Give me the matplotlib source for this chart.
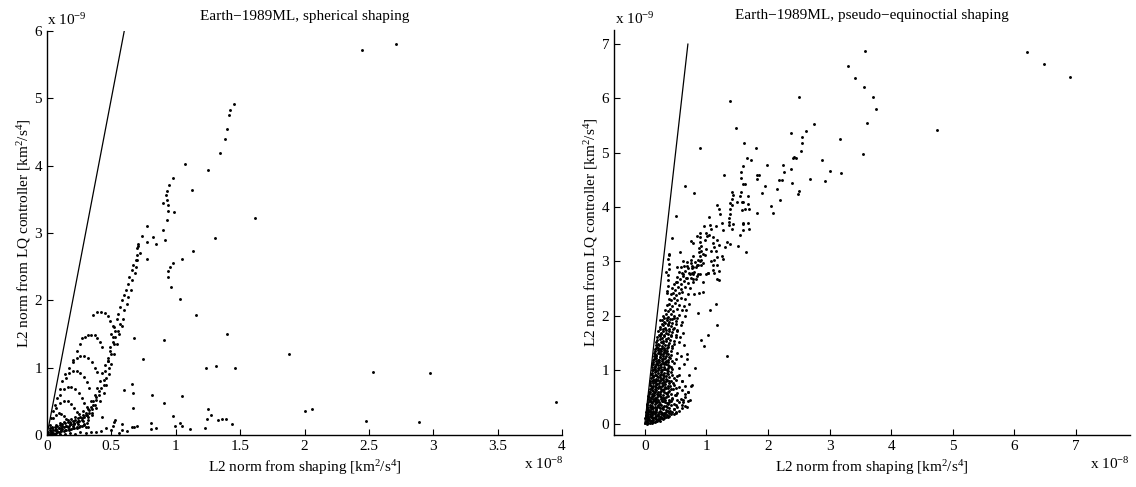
import numpy as np
import matplotlib.pyplot as plt

plt.rcParams['font.family'] = ['Liberation Serif', 'DejaVu Serif']
plt.rcParams['mathtext.default'] = 'regular'
plt.rcParams['font.size'] = 11

# units: x in 1e-8, y in 1e-9 (km^2/s^4)

# ---- spherical shaping ----
sph_out_x = [2.445,2.71,1.455,1.42,1.41,1.40,1.385,1.34,1.25,1.07,
             1.13,0.98,0.948,0.93,0.927,0.932,0.904,0.937,0.94,0.987,
             0.93,1.614,1.305,0.90,0.915,0.78,0.82,0.74,0.78,0.85,
             0.71,0.70,1.137,0.777,1.047,0.98,0.956,0.943,0.943,0.966,
             1.033,1.158,1.40,0.907,1.88,1.235,1.31,1.46,2.53,1.05,
             0.91,2.0,2.06,2.48,1.25,1.27,1.24,1.33,1.36,1.39,
             1.44,1.23,0.98,0.995,1.03,1.05,1.11,0.81,0.81,0.85,
             0.67,0.658,0.666,0.816,0.60,0.746,0.676,0.674,0.70,0.58,
             0.58,0.53,0.52,0.51,0.425,0.32,0.30,2.976,2.89,3.95]
sph_out_y = [5.72,5.81,4.91,4.83,4.75,4.55,4.39,4.19,3.94,4.02,
             3.64,3.82,3.71,3.63,3.56,3.49,3.44,3.42,3.33,3.31,
             3.20,3.22,2.93,3.05,2.89,3.10,2.94,2.96,2.87,2.84,
             2.84,2.78,2.73,2.61,2.62,2.55,2.49,2.43,2.34,2.20,
             2.02,1.78,1.50,1.41,1.20,0.99,1.02,0.995,0.94,0.58,
             0.47,0.36,0.38,0.21,0.39,0.29,0.24,0.22,0.235,0.24,
             0.17,0.10,0.28,0.14,0.18,0.14,0.085,0.18,0.09,0.10,
             0.40,0.76,0.63,0.60,0.67,1.13,1.44,0.12,0.13,0.17,
             0.08,0.23,0.20,0.13,0.26,0.12,0.12,0.917,0.20,0.486]

sph_band_x = [0.02,0.05,0.08,0.11,0.14,0.17,0.2,0.23,0.26,0.29,0.32,0.35,
              0.03,0.06,0.09,0.12,0.15,0.18,0.21,0.24,0.27,0.3,0.33,0.36,0.38,0.40,0.42,0.44,
              0.02,0.04,0.07,0.10,0.13,0.16,0.19,0.22,0.25,0.28,0.31,0.34,0.37,0.39,0.41,0.43,0.45,0.47,
              0.04,0.08,0.12,0.16,0.2,0.24,0.28,0.32,0.35,0.38,0.41,0.44,0.46,0.48,0.5,0.52,0.54,0.56,0.58,
              0.47,0.49,0.51,0.53,0.55,0.57,0.59,0.6,0.62,0.63,0.65,0.66,0.68,0.69,0.7,0.72,
              0.5,0.52,0.54,0.55,0.57,0.58,0.6,0.61,0.63,0.64,0.66,0.67,0.69,0.7,0.71]
sph_band_y = [0.01,0.03,0.05,0.07,0.08,0.09,0.10,0.12,0.14,0.17,0.22,0.30,
              0.05,0.08,0.11,0.13,0.14,0.16,0.18,0.21,0.25,0.30,0.37,0.45,0.52,0.60,0.70,0.82,
              0.08,0.12,0.15,0.18,0.2,0.22,0.24,0.27,0.31,0.36,0.42,0.5,0.6,0.7,0.8,0.92,1.04,1.15,
              0.03,0.06,0.09,0.12,0.14,0.17,0.21,0.27,0.33,0.4,0.5,0.62,0.75,0.9,1.05,1.2,1.35,1.5,1.62,
              1.1,1.25,1.38,1.45,1.55,1.65,1.72,1.85,1.95,2.05,2.15,2.3,2.4,2.5,2.6,2.7,
              1.5,1.6,1.72,1.8,1.9,2.0,2.08,2.15,2.25,2.35,2.45,2.52,2.6,2.68,2.8]

# extra points in the thick band near the origin
sph_dense_x = [0.01,0.03,0.05,0.07,0.09,0.11,0.13,0.15,0.17,0.19,0.21,0.23,0.25,0.27,0.29,0.31,0.33,0.35,0.37,
               0.01,0.02,0.04,0.06,0.08,0.1,0.12,0.14,0.16,0.18,0.2,0.22,0.24,0.26,0.28,0.3,0.32,0.34,0.36,0.38,0.4,
               0.03,0.05,0.07,0.09,0.11,0.13,0.15,0.17,0.19,0.21,0.23,0.25,0.27,0.29,0.31,
               0.44,0.46,0.45,0.48,0.47,0.5,0.49,0.52,0.51,0.53]
sph_dense_y = [0.04,0.06,0.07,0.09,0.1,0.11,0.12,0.13,0.14,0.16,0.17,0.19,0.21,0.23,0.26,0.29,0.33,0.38,0.44,
               0.02,0.1,0.1,0.12,0.14,0.15,0.16,0.18,0.19,0.2,0.21,0.23,0.25,0.27,0.3,0.33,0.38,0.42,0.5,0.56,0.65,
               0.01,0.02,0.03,0.05,0.06,0.06,0.07,0.08,0.09,0.1,0.11,0.12,0.13,0.15,0.18,
               0.75,0.85,0.95,1.0,1.1,1.2,1.3,1.35,1.45,1.55]

sph_arc_x = [0.36,0.39,0.42,0.45,0.476,0.49,0.51,
             0.27,0.295,0.32,0.34,0.373,0.39,0.41,0.43,
             0.2,0.23,0.26,0.29,0.32,0.35,0.37,0.39,
             0.15,0.17,0.2,0.23,0.26,0.29,0.31,0.33,
             0.1,0.13,0.16,0.19,0.22,0.25,0.27,0.29,
             0.07,0.1,0.13,0.16,0.19,0.21,0.23,
             0.05,0.07,0.09,0.11,0.13,0.15,
             0.02,0.03,0.05,0.06,0.08,0.1,0.12,0.14,0.17,0.2,0.23,0.26,
             0.06,0.1,0.14,0.18,0.22,0.26,0.3,
             0.34,0.38,0.42,0.46,0.5,0.56,0.62,0.66]
sph_arc_y = [1.78,1.82,1.82,1.81,1.76,1.7,1.62,
             1.44,1.46,1.48,1.49,1.48,1.44,1.38,1.3,
             1.12,1.15,1.17,1.17,1.14,1.08,1.0,0.93,
             0.85,0.92,0.95,0.95,0.92,0.86,0.78,0.7,
             0.6,0.68,0.72,0.72,0.68,0.62,0.55,0.47,
             0.4,0.47,0.5,0.5,0.46,0.4,0.34,
             0.25,0.3,0.32,0.31,0.28,0.24,
             0.15,0.25,0.35,0.45,0.55,0.68,0.8,0.9,1.0,1.08,1.25,1.35,
             0.01,0.02,0.02,0.03,0.02,0.04,0.03,
             0.05,0.04,0.06,0.1,0.08,0.03,0.06,0.12]

sph_line_x = [0, 0.6]
sph_line_y = [0, 6]

# ---- pseudo-equinoctial shaping ----
peq_out_x = [3.57,3.30,3.41,3.56,3.71,3.76,3.61,3.55,4.75,6.20,
             6.48,6.91,3.17,3.19,2.50,1.38,1.48,2.75,2.62,2.38,
             2.56,2.55,2.54,1.61,0.89,1.81,1.66,1.73,2.43,2.46,
             2.40,2.88,1.59,1.98,2.24,2.37,1.57,1.83,1.85,2.26,
             3.01,1.57,1.83,2.18,2.23,2.69,2.93,1.63,1.59,2.39,
             1.95,2.15,1.56,1.91,2.50,2.49,1.67,2.20,1.59,1.67,
             2.05,1.62,1.70,1.58,1.83,2.09,1.60,1.67,1.70,0.65,
             0.80,0.51,0.45,1.29]
peq_out_y = [6.88,6.59,6.38,6.21,6.02,5.80,5.55,4.98,5.41,6.85,
             6.63,6.39,5.26,4.63,6.02,5.95,5.46,5.53,5.40,5.36,
             5.29,5.17,5.03,5.18,5.09,5.08,4.90,4.87,4.92,4.90,
             4.91,4.86,4.76,4.77,4.78,4.70,4.64,4.59,4.58,4.65,
             4.66,4.54,4.52,4.49,4.49,4.52,4.48,4.43,4.42,4.44,
             4.38,4.34,4.27,4.25,4.30,4.24,4.20,4.13,4.09,4.06,
             4.01,3.97,3.97,3.95,3.89,3.88,3.70,3.70,3.59,4.38,
             4.25,3.83,3.43,4.58]

peq_mid_x = [1.42,1.43,1.55,1.41,1.39,1.41,1.38,1.49,1.58,1.17,
             1.20,1.22,1.38,1.37,1.37,1.26,1.36,1.43,1.42,1.60,
             1.60,1.27,1.54,1.06,1.15,1.07,0.96,1.04,0.90,1.00,
             1.01,1.04,0.84,0.89,0.75,0.78,0.89,0.92,0.97,1.11,
             1.18,1.20,1.10,1.12,1.34,1.38,1.31,1.51,0.88,0.92,
             0.99,1.07,0.88,0.95,1.16,1.26,1.18,1.65,0.78,0.89,
             0.97,0.87,0.90,0.95,0.68,0.75,0.76,0.79,0.83,0.86,
             0.91,1.07,1.12,1.11,1.17,1.27,0.62,0.73,0.76,0.79,
             0.86,0.90,0.99,1.02,1.12,0.79,0.83,1.18,0.67]
peq_mid_y = [4.27,4.22,4.20,4.14,4.08,4.03,3.97,4.09,4.09,4.03,
             3.97,3.87,3.87,3.80,3.73,3.71,3.66,3.68,3.59,3.69,
             3.57,3.57,3.48,3.66,3.65,3.60,3.65,3.81,3.52,3.52,
             3.46,3.48,3.46,3.44,3.38,3.33,3.35,3.28,3.39,3.45,
             3.39,3.30,3.33,3.27,3.36,3.32,3.27,3.28,3.25,3.19,
             3.22,3.19,3.17,3.14,3.19,3.09,3.08,3.17,3.09,3.09,
             3.11,3.03,3.01,2.96,2.91,2.96,2.88,2.90,2.89,2.93,
             2.93,3.00,3.02,2.93,2.93,3.05,2.76,2.76,2.78,2.76,
             2.76,2.76,2.76,2.78,2.78,2.68,2.67,2.68,2.70]

peq_edge_x = [1.16,1.06,1.02,1.17,0.92,0.96,1.33,0.81,0.75,1.20,
              1.21,1.02,0.95,0.88,0.67,0.52,0.50,0.36,0.35,0.40,
              0.24,0.57,0.73,0.76,0.68,0.51,0.30,0.68,0.62,0.87,
              0.95,1.11,
              0.55,0.6,0.63,0.58,0.66,0.7,0.62,0.72,0.57,0.64,0.69,0.6]
peq_edge_y = [2.22,2.10,1.64,1.82,1.55,1.44,1.25,1.03,0.71,2.82,
              2.66,2.79,2.62,2.41,2.11,2.89,2.62,2.41,2.80,3.14,
              1.92,3.17,0.44,0.72,0.32,0.20,0.10,1.30,1.67,2.04,
              2.44,2.84,
              0.9,0.8,1.1,1.25,0.55,0.6,0.45,0.9,1.6,1.45,1.2,0.35]

peq_core_x = [0.01,0.04,0.08,0.12,0.16,0.2,0.25,
              0.02,0.05,0.09,0.13,0.18,0.23,0.28,0.34,0.4,
              0.01,0.03,0.06,0.1,0.14,0.19,0.24,0.3,0.36,0.42,0.48,
              0.02,0.05,0.08,0.12,0.16,0.21,0.26,0.32,0.38,0.44,0.5,0.55,
              0.03,0.06,0.1,0.14,0.18,0.23,0.28,0.34,0.4,0.47,0.53,0.6,0.66,
              0.04,0.08,0.12,0.16,0.2,0.25,0.3,0.36,0.42,0.48,0.55,0.62,0.7,
              0.06,0.1,0.14,0.18,0.22,0.27,0.32,0.38,0.44,0.5,0.58,0.66,
              0.07,0.11,0.15,0.19,0.24,0.29,0.34,0.4,0.46,0.53,0.6,0.7,
              0.08,0.12,0.16,0.2,0.25,0.3,0.35,0.41,0.48,0.56,0.65,
              0.09,0.13,0.17,0.21,0.26,0.31,0.36,0.42,0.5,0.6,
              0.1,0.14,0.18,0.22,0.27,0.32,0.37,0.44,0.52,
              0.11,0.15,0.19,0.23,0.28,0.33,0.38,0.45,0.55,
              0.12,0.16,0.2,0.24,0.29,0.34,0.4,0.47,
              0.13,0.17,0.21,0.25,0.3,0.35,0.41,0.5,
              0.15,0.19,0.23,0.27,0.32,0.37,0.43,0.52,
              0.16,0.2,0.24,0.28,0.33,0.38,0.45,
              0.18,0.22,0.26,0.3,0.35,0.4,0.47,0.56,
              0.2,0.24,0.28,0.32,0.37,0.42,0.5,
              0.22,0.26,0.3,0.34,0.39,0.45,0.53,
              0.25,0.29,0.33,0.37,0.42,0.48,0.58,
              0.28,0.32,0.36,0.4,0.45,0.51,0.6,
              0.3,0.34,0.38,0.43,0.48,0.55,0.65,
              0.33,0.37,0.41,0.46,0.52,0.6,
              0.36,0.4,0.44,0.49,0.55,0.63,0.72,
              0.39,0.43,0.47,0.52,0.58,0.66,
              0.42,0.46,0.5,0.55,0.61,0.7,0.8,
              0.45,0.49,0.54,0.59,0.65,0.74,
              0.48,0.53,0.58,0.63,0.7,0.78,
              0.52,0.57,0.62,0.68,0.75,0.84,
              0.55,0.6,0.66,0.72,0.8,
              0.58,0.64,0.7,0.77,0.85,
              0.62,0.68,0.75,0.82,0.92]
peq_core_y = [0.02,0.01,0.03,0.02,0.04,0.05,0.06,
              0.06,0.08,0.05,0.07,0.09,0.1,0.12,0.13,0.15,
              0.12,0.15,0.11,0.14,0.12,0.15,0.13,0.16,0.17,0.18,0.19,
              0.22,0.19,0.24,0.2,0.23,0.19,0.22,0.21,0.24,0.23,0.22,0.24,
              0.31,0.28,0.33,0.3,0.27,0.32,0.29,0.33,0.3,0.28,0.31,0.3,0.33,
              0.38,0.42,0.39,0.43,0.4,0.37,0.42,0.39,0.43,0.38,0.41,0.4,0.42,
              0.52,0.48,0.51,0.47,0.53,0.5,0.48,0.52,0.49,0.53,0.47,0.5,
              0.6,0.63,0.58,0.62,0.59,0.63,0.57,0.61,0.64,0.58,0.62,0.6,
              0.72,0.68,0.71,0.74,0.69,0.72,0.67,0.71,0.73,0.68,0.7,
              0.79,0.82,0.78,0.81,0.83,0.78,0.82,0.79,0.81,0.8,
              0.92,0.88,0.91,0.87,0.92,0.89,0.93,0.9,0.88,
              0.99,1.02,0.98,1.03,0.99,1.02,0.97,1.01,1.03,
              1.11,1.08,1.12,1.09,1.13,1.1,1.08,1.12,
              1.19,1.22,1.18,1.23,1.2,1.17,1.22,1.2,
              1.31,1.28,1.32,1.29,1.33,1.3,1.27,1.31,
              1.39,1.42,1.38,1.41,1.37,1.42,1.4,
              1.51,1.48,1.52,1.49,1.53,1.5,1.47,1.51,
              1.6,1.63,1.58,1.62,1.59,1.63,1.6,
              1.72,1.68,1.71,1.67,1.72,1.69,1.71,
              1.79,1.82,1.78,1.83,1.8,1.77,1.82,
              1.91,1.88,1.92,1.89,1.93,1.9,1.88,
              1.99,2.02,1.98,2.03,1.99,2.01,2.0,
              2.11,2.08,2.12,2.09,2.13,2.1,
              2.19,2.22,2.18,2.23,2.2,2.17,2.21,
              2.31,2.28,2.32,2.29,2.33,2.3,
              2.39,2.42,2.38,2.41,2.43,2.39,2.4,
              2.51,2.48,2.52,2.49,2.53,2.5,
              2.59,2.62,2.58,2.63,2.6,2.61,
              2.71,2.68,2.72,2.69,2.7,2.72,
              2.81,2.78,2.82,2.79,2.8,
              2.9,2.92,2.88,2.91,2.93,
              3.01,2.98,3.02,2.99,3.03]

peq_fill_x = [0.03,0.07,0.11,0.16,0.21,0.26,0.31,0.37,
              0.02,0.04,0.08,0.12,0.17,0.22,0.27,0.33,0.39,
              0.03,0.07,0.1,0.14,0.19,0.24,0.29,0.35,0.41,0.47,
              0.04,0.08,0.12,0.16,0.21,0.26,0.31,0.37,0.43,0.5,
              0.05,0.09,0.13,0.17,0.22,0.27,0.33,0.39,0.45,0.52,
              0.07,0.11,0.15,0.2,0.25,0.3,0.36,0.42,0.49,
              0.08,0.12,0.16,0.21,0.26,0.31,0.37,0.43,0.5,
              0.09,0.13,0.18,0.23,0.28,0.33,0.39,0.46,
              0.1,0.14,0.19,0.24,0.29,0.34,0.4,0.47,
              0.11,0.16,0.21,0.26,0.31,0.36,0.42,
              0.12,0.17,0.22,0.27,0.32,0.37,0.43,
              0.14,0.18,0.23,0.28,0.33,0.38,0.44,
              0.15,0.19,0.24,0.29,0.34,0.4,
              0.16,0.21,0.26,0.31,0.36,0.42,
              0.18,0.23,0.28,0.33,0.38,0.44,
              0.2,0.25,0.3,0.35,0.41,0.48,
              0.23,0.27,0.32,0.37,0.43,0.5,
              0.25,0.3,0.35,0.4,0.46,0.53,
              0.28,0.33,0.38,0.44,0.5,
              0.31,0.36,0.41,0.47,0.53]
peq_fill_y = [0.09,0.1,0.08,0.11,0.09,0.12,0.11,0.14,
              0.17,0.16,0.18,0.16,0.18,0.17,0.19,0.18,0.2,
              0.26,0.25,0.27,0.24,0.26,0.25,0.27,0.26,0.25,0.27,
              0.35,0.36,0.34,0.37,0.35,0.36,0.34,0.37,0.35,0.36,
              0.46,0.44,0.46,0.45,0.44,0.46,0.45,0.44,0.46,0.45,
              0.55,0.56,0.54,0.56,0.55,0.54,0.56,0.55,0.54,
              0.65,0.66,0.64,0.66,0.65,0.64,0.66,0.65,0.66,
              0.75,0.76,0.74,0.76,0.75,0.74,0.76,0.75,
              0.85,0.86,0.84,0.86,0.85,0.84,0.86,0.85,
              0.95,0.96,0.94,0.96,0.95,0.94,0.96,
              1.05,1.06,1.04,1.06,1.05,1.04,1.06,
              1.15,1.16,1.14,1.16,1.15,1.14,1.16,
              1.25,1.26,1.24,1.26,1.25,1.24,
              1.35,1.36,1.34,1.36,1.35,1.34,
              1.45,1.46,1.44,1.46,1.45,1.44,
              1.55,1.56,1.54,1.56,1.55,1.54,
              1.65,1.66,1.64,1.66,1.65,1.64,
              1.75,1.76,1.74,1.76,1.75,1.74,
              1.85,1.86,1.84,1.86,1.85,
              1.95,1.96,1.94,1.96,1.95]

# third layer for the black part of the wedge, plus the column near the line
peq_dense_x = [0.03,0.06,0.1,0.14,0.19,0.23,
               0.02,0.05,0.08,0.12,0.16,0.21,0.26,0.32,
               0.03,0.06,0.1,0.14,0.18,0.23,0.28,0.34,
               0.04,0.08,0.12,0.16,0.2,0.25,0.3,0.36,
               0.05,0.1,0.14,0.18,0.23,0.28,0.33,0.39,
               0.07,0.12,0.16,0.2,0.25,0.3,0.35,
               0.08,0.13,0.17,0.22,0.27,0.32,0.37,
               0.1,0.14,0.18,0.23,0.28,0.33,0.38,
               0.11,0.15,0.19,0.24,0.29,0.34,0.39,
               0.12,0.16,0.2,0.25,0.3,0.35,
               0.13,0.17,0.21,0.26,0.31,0.36,
               0.14,0.18,0.22,0.27,0.32,0.37,
               0.15,0.19,0.23,0.28,0.33,0.38,
               0.17,0.21,0.25,0.3,0.35,
               0.18,0.22,0.26,0.31,0.36,
               0.36,0.37,0.38,0.38,0.39,0.4,0.37,0.4]
peq_dense_y = [0.04,0.03,0.05,0.04,0.06,0.07,
               0.14,0.13,0.15,0.14,0.13,0.15,0.14,0.15,
               0.21,0.23,0.22,0.21,0.23,0.22,0.21,0.23,
               0.32,0.31,0.3,0.32,0.31,0.3,0.32,0.31,
               0.41,0.4,0.42,0.41,0.4,0.42,0.41,0.4,
               0.5,0.51,0.49,0.5,0.51,0.49,0.5,
               0.6,0.61,0.59,0.6,0.61,0.59,0.6,
               0.7,0.71,0.69,0.7,0.71,0.69,0.7,
               0.8,0.81,0.79,0.8,0.81,0.79,0.8,
               0.9,0.91,0.89,0.9,0.91,0.89,
               1.0,1.01,0.99,1.0,1.01,0.99,
               1.1,1.11,1.09,1.1,1.11,1.09,
               1.2,1.21,1.19,1.2,1.21,1.19,
               1.3,1.31,1.29,1.3,1.31,
               1.4,1.41,1.39,1.4,1.41,
               2.45,2.55,2.65,2.75,2.85,2.95,3.05,3.12]

peq_line_x = [0, 0.7]
peq_line_y = [0, 7]

W, H = 1136, 487
fig = plt.figure(figsize=(W/100, H/100), dpi=100)
ax1 = fig.add_axes([47/W, 52/H, 515/W, 404/H])
ax2 = fig.add_axes([614/W, 52/H, 516/W, 405/H])

dot = dict(linestyle='none', marker='o', markersize=2.1, markeredgewidth=0, color='k')

for gx, gy in [(sph_out_x, sph_out_y), (sph_band_x, sph_band_y), (sph_dense_x, sph_dense_y),
               (sph_arc_x, sph_arc_y)]:
    ax1.plot(gx, gy, **dot)
ax1.plot(sph_line_x, sph_line_y, 'k-', lw=0.9)

for gx, gy in [(peq_out_x, peq_out_y), (peq_mid_x, peq_mid_y), (peq_edge_x, peq_edge_y),
               (peq_core_x, peq_core_y), (peq_fill_x, peq_fill_y), (peq_dense_x, peq_dense_y)]:
    ax2.plot(gx, gy, **dot)
ax2.plot(peq_line_x, peq_line_y, 'k-', lw=0.9)

ax1.set_xlim(0, 4)
ax1.set_ylim(0, 6)
ax1.set_xticks(np.arange(0, 4.01, 0.5))
ax1.set_xticklabels(['0', '0.5', '1', '1.5', '2', '2.5', '3', '3.5', '4'])
ax1.set_yticks(range(0, 7))

ax2.set_xlim(-0.5, 7.88)
ax2.set_ylim(-0.2, 7.26)
ax2.set_xticks(range(0, 8))
ax2.set_yticks(range(0, 8))

for ax in [ax1, ax2]:
    ax.spines['top'].set_visible(False)
    ax.spines['right'].set_visible(False)
    ax.spines['left'].set_linewidth(1.0)
    ax.spines['bottom'].set_linewidth(1.0)
    ax.tick_params(direction='in', length=4, width=0.8, labelsize=11)
    ax.set_xlabel('L2 norm from shaping [km$^2$/s$^4$]', fontsize=11)
    ax.set_ylabel('L2 norm from LQ controller [km$^2$/s$^4$]', fontsize=11, labelpad=1)

ax1.set_title('Earth\u22121989ML, spherical shaping', fontsize=11, pad=8)
ax2.set_title('Earth\u22121989ML, pseudo\u2212equinoctial shaping', fontsize=11, pad=8)

# MATLAB style exponent labels
fig.text(47/W, 1 - 20/H, 'x 10$^{\u22129}$', fontsize=11, va='center', ha='left')
fig.text(615/W, 1 - 19/H, 'x 10$^{\u22129}$', fontsize=11, va='center', ha='left')
fig.text(524/W, 1 - 464/H, 'x 10$^{\u22128}$', fontsize=11, va='center', ha='left')
fig.text(1090/W, 1 - 464/H, 'x 10$^{\u22128}$', fontsize=11, va='center', ha='left')

plt.savefig('out.png', dpi=100)
